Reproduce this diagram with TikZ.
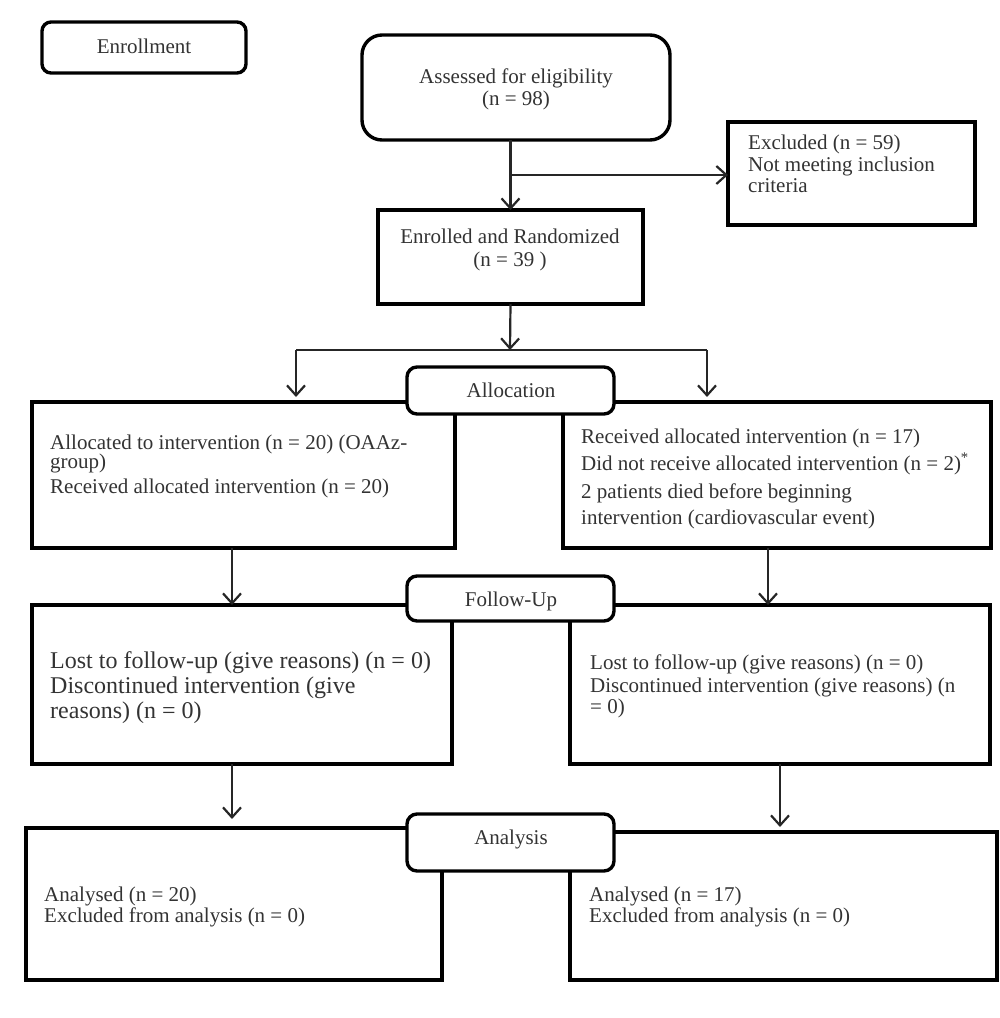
\documentclass[tikz,border=0pt]{standalone}
\usepackage{fontspec}
\setmainfont{Liberation Serif}
\usetikzlibrary{arrows.meta}
\definecolor{txt}{HTML}{333333}
\begin{document}
\begin{tikzpicture}[x=1pt,y=-1pt,
  box/.style={draw=black, line width=3.4pt, inner sep=0pt, outer sep=0pt, anchor=north west, fill=white},
  rbox/.style={box, rounded corners=10pt},
  lt/.style={anchor=base west, inner sep=0pt, text=txt, font=\fontsize{21}{25}\selectfont},
  ltb/.style={lt, font=\fontsize{24}{28}\selectfont},
  ct/.style={anchor=base, inner sep=0pt, text=txt, font=\fontsize{21}{25}\selectfont},
  conn/.style={line width=2.2pt, draw=black!85},
  arr/.style={conn, -{Straight Barb[length=10pt,width=18pt,line width=2.2pt]}}]
\useasboundingbox (0,0) rectangle (1000,1018);
% boxes
\node[rbox, rounded corners=9pt, minimum width=204pt, minimum height=51pt] (enr) at (42,22) {};
\node[rbox, rounded corners=20pt, minimum width=308pt, minimum height=105pt] (ass) at (362,35) {};
\node[box, minimum width=247pt, minimum height=103pt] (exc) at (728,122) {};
\node[box, minimum width=265pt, minimum height=94pt] (rnd) at (378,210) {};
\node[box, minimum width=423pt, minimum height=146pt] (la) at (32,402) {};
\node[box, minimum width=428pt, minimum height=146pt] (ra) at (563,402) {};
\node[rbox, minimum width=207pt, minimum height=47pt] (alloc) at (407,367) {};
\node[box, minimum width=420pt, minimum height=159pt] (lf) at (32,605) {};
\node[box, minimum width=420pt, minimum height=159pt] (rf) at (570,605) {};
\node[rbox, minimum width=207pt, minimum height=45pt] (fu) at (407,576) {};
\node[box, minimum width=416pt, minimum height=152pt] (lan) at (26,828) {};
\node[box, minimum width=427pt, minimum height=148pt] (ran) at (570,832) {};
\node[rbox, minimum width=207pt, minimum height=57pt] (an) at (407,814) {};
% connectors
\coordinate (br) at (510,175);
\coordinate (sp) at (510,350);
\coordinate (spl) at (296,350);
\coordinate (spr) at (707,350);
\draw[arr] (rnd.north |- ass.south) -- (rnd.north);
\draw[arr] (br) -- (exc.west |- br);
\draw[arr] (rnd.south) -- (sp);
\draw[conn] (spl) -- (spr);
\draw[arr, shorten >=5pt] (spl) -- (la.north -| spl);
\draw[arr, shorten >=5pt] (spr) -- (ra.north -| spr);
\coordinate (xl) at (232,0);
\coordinate (xr) at (768,0);
\coordinate (xr2) at (780,0);
\draw[arr] (la.south -| xl) -- (lf.north -| xl);
\draw[arr] (ra.south -| xr) -- (rf.north -| xr);
\draw[arr, shorten >=9pt] (lf.south -| xl) -- (lan.north -| xl);
\draw[arr, shorten >=5pt] (rf.south -| xr2) -- (ran.north -| xr2);
% texts
\node[ct] (t0) at (144,53) {Enrollment};
\node[ct] (t1a) at (516,83) {Assessed for eligibility};
\node[ct] (t1b) at (516,105) {(n = 98)};
\node[lt] (t2a) at (748,149) {Excluded (n = 59)};
\node[lt] (t2b) at (748,171) {Not meeting inclusion};
\node[lt] (t2c) at (748,192) {criteria};
\node[ct] (t3a) at (510,243) {Enrolled and Randomized};
\node[ct] (t3b) at (510,266) {(n = 39 )};
\node[ct] (t4) at (511,397) {Allocation};
\node[lt] (t5a) at (50,449) {Allocated to intervention (n = 20) (OAAz-};
\node[lt] (t5b) at (50,468) {group)};
\node[lt] (t5c) at (50,493) {Received allocated intervention (n = 20)};
\node[lt] (t6a) at (581,443) {Received allocated intervention (n = 17)};
\node[lt] (t6b) at (581,470) {Did not receive allocated intervention (n = 2)\textsuperscript{*}};
\node[lt] (t6c) at (581,498) {2 patients died before beginning};
\node[lt] (t6d) at (581,524) {intervention (cardiovascular event)};
\node[ct] (t7) at (511,606) {Follow-Up};
\node[ltb] (t8a) at (50,668) {Lost to follow-up (give reasons) (n = 0)};
\node[ltb] (t8b) at (50,693) {Discontinued intervention (give};
\node[ltb] (t8c) at (50,718) {reasons) (n = 0)};
\node[lt] (t9a) at (590,669) {Lost to follow-up (give reasons) (n = 0)};
\node[lt] (t9b) at (590,692) {Discontinued intervention (give reasons) (n};
\node[lt] (t9c) at (590,713) {= 0)};
\node[ct] (t10) at (511,844) {Analysis};
\node[lt] (t11a) at (44,901) {Analysed (n = 20)};
\node[lt] (t11b) at (44,922) {Excluded from analysis (n = 0)};
\node[lt] (t12a) at (589,901) {Analysed (n = 17)};
\node[lt] (t12b) at (589,922) {Excluded from analysis (n = 0)};
\end{tikzpicture}
\end{document}
